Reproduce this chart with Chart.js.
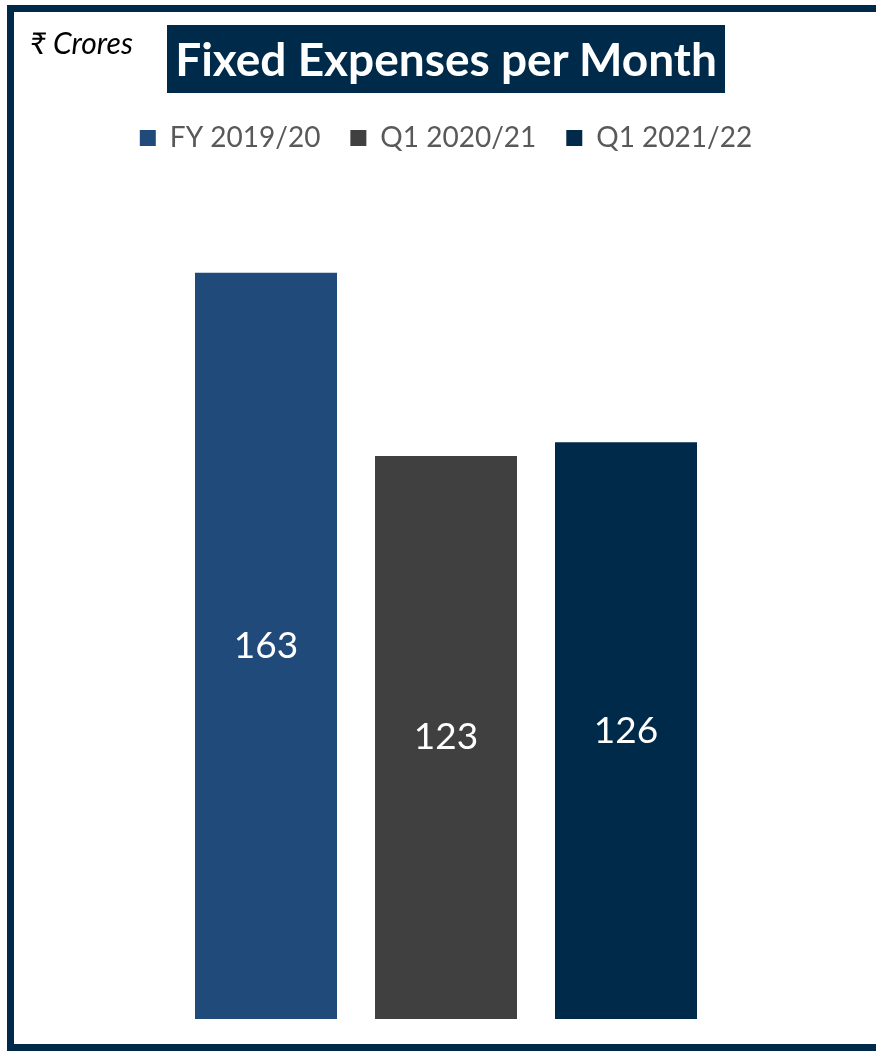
<!DOCTYPE html>
<html>
<head>
<meta charset="utf-8">
<script src="https://cdn.jsdelivr.net/npm/chart.js@4"></script>
<style>
  html, body {
    margin: 0;
    padding: 0;
    background: #fff;
    overflow: hidden;
  }
  #page {
    position: relative;
    width: 876px;
    height: 1051px;
  }
  #frame {
    position: absolute;
    left: 7px;
    top: 5px;
    width: 900px;
    height: 1032px;
    border: 7px solid #002a4a;
    box-sizing: content-box;
  }
  #unit {
    position: absolute;
    left: 30px;
    top: 24px;
    font-family: Lato, "Noto Sans", "DejaVu Sans", sans-serif;
    font-style: italic;
    font-size: 30px;
    color: #000;
  }
  #title {
    position: absolute;
    left: 167px;
    top: 25px;
    width: 558px;
    height: 68px;
    background: #002a4a;
    color: #fff;
    font-family: Lato, "Open Sans", sans-serif;
    font-weight: bold;
    font-size: 46px;
    line-height: 68px;
    text-align: center;
  }
  #chartBox {
    position: absolute;
    left: 0;
    top: 0;
    width: 876px;
    height: 1051px;
  }
</style>
</head>
<body>
<div id="page">
  <div id="chartBox"><canvas id="expenseChart" width="876" height="1051"></canvas></div>
  <div id="frame"></div>
  <div id="unit">₹ Crores</div>
  <div id="title">Fixed Expenses per Month</div>
</div>
<script>
const periods = ["FY 2019/20", "Q1 2020/21", "Q1 2021/22"];
const expenses = [163, 123, 126];
const barColors = ["#204a7a", "#404040", "#002a4a"];

// white value in the middle of each bar
const centerLabels = {
  id: "centerLabels",
  afterDatasetsDraw(chart) {
    const ctx = chart.ctx;
    ctx.save();
    ctx.fillStyle = "#ffffff";
    ctx.font = "37px Lato, 'Open Sans', sans-serif";
    ctx.textAlign = "center";
    ctx.textBaseline = "middle";
    chart.data.datasets.forEach((dataset, i) => {
      const meta = chart.getDatasetMeta(i);
      meta.data.forEach((bar, j) => {
        const value = dataset.data[j];
        const midY = (bar.y + bar.base) / 2;
        ctx.fillText(String(value), bar.x, midY);
      });
    });
    ctx.restore();
  },
};

new Chart(document.getElementById("expenseChart"), {
  type: "bar",
  data: {
    labels: [""],
    datasets: periods.map((period, i) => ({
      label: period,
      data: [expenses[i]],
      backgroundColor: barColors[i],
      borderWidth: 0,
    })),
  },
  options: {
    responsive: false,
    animation: false,
    layout: {
      padding: {
        top: 94,
        left: 16,
        right: 0,
        bottom: 32,
      },
    },
    datasets: {
      bar: {
        categoryPercentage: 540 / 860,
        barPercentage: 142 / 180,
      },
    },
    plugins: {
      legend: {
        position: "top",
        labels: {
          boxWidth: 16,
          boxHeight: 16,
          padding: 30,
          color: "#595959",
          font: {
            family: "Lato, 'Open Sans', sans-serif",
            size: 28,
          },
        },
      },
      tooltip: {
        enabled: false,
      },
    },
    scales: {
      x: {
        display: false,
      },
      y: {
        display: false,
        min: 0,
        max: 187.2,
      },
    },
  },
  plugins: [centerLabels],
});
</script>
</body>
</html>
